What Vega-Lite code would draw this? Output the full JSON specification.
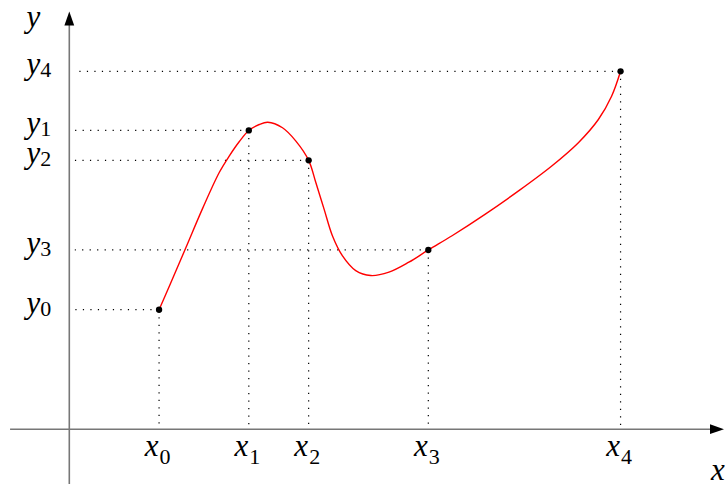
{
  "$schema": "https://vega.github.io/schema/vega-lite/v6.json",
  "width": 725,
  "height": 486,
  "autosize": {"type": "fit", "contains": "padding"},
  "padding": 0,
  "background": "white",
  "config": {"view": {"stroke": null}},
  "datasets": {
    "pts": [
      {"i": "0", "x": 1.5, "y": 2.0},
      {"i": "1", "x": 3.0, "y": 5.0},
      {"i": "2", "x": 4.0, "y": 4.5},
      {"i": "3", "x": 6.0, "y": 3.0},
      {"i": "4", "x": 9.213, "y": 5.99}
    ],
    "curve": [
      {"x": 1.5, "y": 2.0},
      {"x": 1.675, "y": 2.4},
      {"x": 1.953, "y": 3.05},
      {"x": 2.23, "y": 3.7},
      {"x": 2.508, "y": 4.3},
      {"x": 2.675, "y": 4.575},
      {"x": 2.842, "y": 4.815},
      {"x": 3.0, "y": 5.0},
      {"x": 3.175, "y": 5.1},
      {"x": 3.317, "y": 5.138},
      {"x": 3.563, "y": 5.045},
      {"x": 3.787, "y": 4.822},
      {"x": 4.0, "y": 4.5},
      {"x": 4.12, "y": 4.128},
      {"x": 4.258, "y": 3.683},
      {"x": 4.397, "y": 3.238},
      {"x": 4.563, "y": 2.905},
      {"x": 4.787, "y": 2.655},
      {"x": 5.037, "y": 2.572},
      {"x": 5.342, "y": 2.628},
      {"x": 5.675, "y": 2.795},
      {"x": 6.0, "y": 3.0},
      {"x": 6.397, "y": 3.238},
      {"x": 6.953, "y": 3.6},
      {"x": 7.508, "y": 3.988},
      {"x": 8.063, "y": 4.405},
      {"x": 8.508, "y": 4.795},
      {"x": 8.842, "y": 5.183},
      {"x": 9.063, "y": 5.572},
      {"x": 9.213, "y": 5.99}
    ]
  },
  "layer": [
    {
      "data": {"name": "pts"},
      "mark": {"type": "rule", "color": "black", "strokeWidth": 1.2, "strokeDash": [1.2, 6.3]},
      "encoding": {
        "x": {"field": "x", "type": "quantitative", "scale": {"domain": [-1.1583, 10.925], "nice": false, "zero": false}, "axis": null},
        "x2": {"datum": 0.092},
        "y": {"field": "y", "type": "quantitative", "scale": {"domain": [-0.9167, 7.1833], "nice": false, "zero": false}, "axis": null}
      }
    },
    {
      "data": {"name": "pts"},
      "mark": {"type": "rule", "color": "black", "strokeWidth": 1.2, "strokeDash": [1.2, 6.3]},
      "encoding": {
        "x": {"field": "x", "type": "quantitative", "scale": {"domain": [-1.1583, 10.925], "nice": false, "zero": false}, "axis": null},
        "y": {"field": "y", "type": "quantitative", "scale": {"domain": [-0.9167, 7.1833], "nice": false, "zero": false}, "axis": null},
        "y2": {"datum": 0}
      }
    },
    {
      "data": {"values": [{}]},
      "mark": {"type": "rule", "color": "#777777", "strokeWidth": 1.6},
      "encoding": {
        "x": {"datum": -0.99, "type": "quantitative", "scale": {"domain": [-1.1583, 10.925], "nice": false, "zero": false}, "axis": null},
        "x2": {"datum": 10.76},
        "y": {"datum": 0, "type": "quantitative", "scale": {"domain": [-0.9167, 7.1833], "nice": false, "zero": false}, "axis": null}
      }
    },
    {
      "data": {"values": [{}]},
      "mark": {"type": "rule", "color": "#777777", "strokeWidth": 1.6},
      "encoding": {
        "x": {"datum": 0, "type": "quantitative", "scale": {"domain": [-1.1583, 10.925], "nice": false, "zero": false}, "axis": null},
        "y": {"datum": -0.9167, "type": "quantitative", "scale": {"domain": [-0.9167, 7.1833], "nice": false, "zero": false}, "axis": null},
        "y2": {"datum": 6.8}
      }
    },
    {
      "data": {"values": [{}]},
      "mark": {"type": "point", "shape": "M0,-1L0.7,1L-0.7,1Z", "size": 196, "filled": true, "color": "black", "opacity": 1},
      "encoding": {
        "x": {"datum": 0, "type": "quantitative", "scale": {"domain": [-1.1583, 10.925], "nice": false, "zero": false}, "axis": null},
        "y": {"datum": 6.872, "type": "quantitative", "scale": {"domain": [-0.9167, 7.1833], "nice": false, "zero": false}, "axis": null}
      }
    },
    {
      "data": {"values": [{}]},
      "mark": {"type": "point", "shape": "M1,0L-1,0.7L-1,-0.7Z", "size": 196, "filled": true, "color": "black", "opacity": 1},
      "encoding": {
        "x": {"datum": 10.825, "type": "quantitative", "scale": {"domain": [-1.1583, 10.925], "nice": false, "zero": false}, "axis": null},
        "y": {"datum": 0, "type": "quantitative", "scale": {"domain": [-0.9167, 7.1833], "nice": false, "zero": false}, "axis": null}
      }
    },
    {
      "data": {"name": "curve"},
      "mark": {"type": "line", "color": "#ff0000", "strokeWidth": 1.4, "interpolate": "catmull-rom"},
      "encoding": {
        "x": {"field": "x", "type": "quantitative", "scale": {"domain": [-1.1583, 10.925], "nice": false, "zero": false}, "axis": null},
        "y": {"field": "y", "type": "quantitative", "scale": {"domain": [-0.9167, 7.1833], "nice": false, "zero": false}, "axis": null}
      }
    },
    {
      "data": {"name": "pts"},
      "mark": {"type": "circle", "size": 40, "color": "black", "opacity": 1},
      "encoding": {
        "x": {"field": "x", "type": "quantitative", "scale": {"domain": [-1.1583, 10.925], "nice": false, "zero": false}, "axis": null},
        "y": {"field": "y", "type": "quantitative", "scale": {"domain": [-0.9167, 7.1833], "nice": false, "zero": false}, "axis": null}
      }
    },
    {
      "data": {"name": "pts"},
      "mark": {"type": "text", "text": "x", "font": "Liberation Serif", "fontStyle": "italic", "fontSize": 31, "align": "center", "baseline": "alphabetic", "dx": -7.5, "dy": 27, "color": "black"},
      "encoding": {
        "x": {"field": "x", "type": "quantitative", "scale": {"domain": [-1.1583, 10.925], "nice": false, "zero": false}, "axis": null},
        "y": {"datum": 0, "type": "quantitative", "scale": {"domain": [-0.9167, 7.1833], "nice": false, "zero": false}, "axis": null}
      }
    },
    {
      "data": {"name": "pts"},
      "mark": {"type": "text", "font": "Liberation Serif", "fontSize": 22, "align": "left", "baseline": "alphabetic", "dx": 0.5, "dy": 34.5, "color": "black"},
      "encoding": {
        "x": {"field": "x", "type": "quantitative", "scale": {"domain": [-1.1583, 10.925], "nice": false, "zero": false}, "axis": null},
        "y": {"datum": 0, "type": "quantitative", "scale": {"domain": [-0.9167, 7.1833], "nice": false, "zero": false}, "axis": null},
        "text": {"field": "i", "type": "nominal"}
      }
    },
    {
      "data": {"name": "pts"},
      "mark": {"type": "text", "text": "y", "font": "Liberation Serif", "fontStyle": "italic", "fontSize": 31, "align": "right", "baseline": "alphabetic", "dx": -29, "dy": 3, "color": "black"},
      "encoding": {
        "x": {"datum": 0, "type": "quantitative", "scale": {"domain": [-1.1583, 10.925], "nice": false, "zero": false}, "axis": null},
        "y": {"field": "y", "type": "quantitative", "scale": {"domain": [-0.9167, 7.1833], "nice": false, "zero": false}, "axis": null}
      }
    },
    {
      "data": {"name": "pts"},
      "mark": {"type": "text", "font": "Liberation Serif", "fontSize": 22, "align": "left", "baseline": "alphabetic", "dx": -29, "dy": 6, "color": "black"},
      "encoding": {
        "x": {"datum": 0, "type": "quantitative", "scale": {"domain": [-1.1583, 10.925], "nice": false, "zero": false}, "axis": null},
        "y": {"field": "y", "type": "quantitative", "scale": {"domain": [-0.9167, 7.1833], "nice": false, "zero": false}, "axis": null},
        "text": {"field": "i", "type": "nominal"}
      }
    },
    {
      "data": {"values": [{}]},
      "mark": {"type": "text", "text": "y", "font": "Liberation Serif", "fontStyle": "italic", "fontSize": 31, "align": "right", "baseline": "alphabetic", "dx": -29, "dy": 3, "color": "black"},
      "encoding": {
        "x": {"datum": 0, "type": "quantitative", "scale": {"domain": [-1.1583, 10.925], "nice": false, "zero": false}, "axis": null},
        "y": {"datum": 6.775, "type": "quantitative", "scale": {"domain": [-0.9167, 7.1833], "nice": false, "zero": false}, "axis": null}
      }
    },
    {
      "data": {"values": [{}]},
      "mark": {"type": "text", "text": "x", "font": "Liberation Serif", "fontStyle": "italic", "fontSize": 31, "align": "center", "baseline": "alphabetic", "dy": 50.7, "color": "black"},
      "encoding": {
        "x": {"datum": 10.84, "type": "quantitative", "scale": {"domain": [-1.1583, 10.925], "nice": false, "zero": false}, "axis": null},
        "y": {"datum": 0, "type": "quantitative", "scale": {"domain": [-0.9167, 7.1833], "nice": false, "zero": false}, "axis": null}
      }
    }
  ]
}
